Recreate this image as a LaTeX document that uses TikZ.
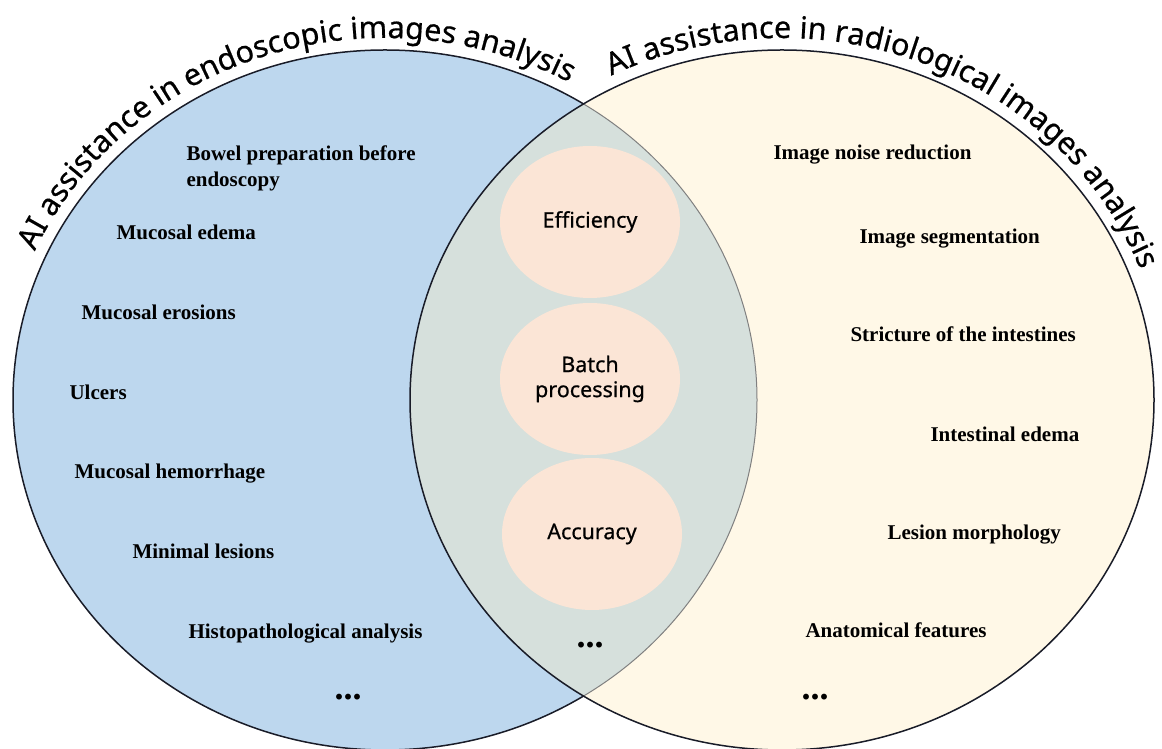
\documentclass[tikz,border=0pt]{standalone}
\usepackage{fontspec}
\setmainfont{Liberation Serif}
\newfontfamily\headfont{Noto Sans}[FakeBold=0.6]
\usetikzlibrary{shapes.geometric,decorations.text}

\definecolor{endoblue}{RGB}{189,215,238}
\definecolor{radiocream}{RGB}{255,248,231}
\definecolor{overlapgrey}{RGB}{214,224,220}
\definecolor{keypink}{RGB}{251,229,214}
\definecolor{rimblack}{RGB}{25,28,40}

\begin{document}
\begin{tikzpicture}[x=1pt,y=1pt,
  rim/.style={draw=rimblack,line width=1.5pt},
  item/.style={anchor=base west,font=\bfseries\fontsize{21}{26}\selectfont},
  key/.style={ellipse,fill=keypink,minimum width=180pt,minimum height=152pt,inner sep=0pt,align=center,font=\headfont\fontsize{21.5}{25}\selectfont},
  more/.style={anchor=base,font=\bfseries\fontsize{36}{36}\selectfont},
  title/.style={decorate,decoration={text along path,text align=center,text={#1}}}]
\useasboundingbox (0,0) rectangle (1162,749);
\coordinate (cl) at (385,349);
\coordinate (cr) at (782,349);
% the two sets and their overlap
\fill[endoblue] (cl) ellipse [x radius=372pt,y radius=350pt];
\draw[rim] (cl) ellipse [x radius=372pt,y radius=350pt];
\fill[radiocream] (cr) ellipse [x radius=372pt,y radius=350pt];
\begin{scope}
  \clip (cl) ellipse [x radius=372pt,y radius=350pt];
  \fill[overlapgrey] (cr) ellipse [x radius=372pt,y radius=350pt];
\end{scope}
\begin{scope}
  \clip (cr) ellipse [x radius=372pt,y radius=350pt];
  \draw[gray,line width=1pt] (cl) ellipse [x radius=372pt,y radius=350pt];
\end{scope}
\draw[rim] (cr) ellipse [x radius=372pt,y radius=350pt];
% curved titles
\path[title={|\headfont\fontsize{30.5}{32}\selectfont|AI assistance in endoscopic images analysis}]
  (cl) ++(168.75:384pt and 362pt) arc[start angle=168.75,end angle=48.75,x radius=384pt,y radius=362pt];
\path[title={|\headfont\fontsize{30.5}{32}\selectfont|AI assistance in radiological images analysis}]
  (cr) ++(128.5:384pt and 362pt) arc[start angle=128.5,end angle=8.5,x radius=384pt,y radius=362pt];
% shared benefits
\node[key] (eff) at (590,527) {Efficiency};
\node[key] (batch) at (590,370) {Batch\\processing};
\node[key] (acc) at (592,215) {Accuracy};
\node[more] (dotsm) at (590,101) {...};
% endoscopic side
\node[item,anchor=west,align=left] (bowel) at (183,581) {Bowel preparation before\\endoscopy};
\node[item] (edema) at (113,509) {Mucosal edema};
\node[item] (erosion) at (78,429) {Mucosal erosions};
\node[item] (ulcer) at (66,349) {Ulcers};
\node[item] (bleed) at (71,270) {Mucosal hemorrhage};
\node[item] (minimal) at (129,190) {Minimal lesions};
\node[item] (histo) at (185,110) {Histopathological analysis};
\node[more] (dotsl) at (348,49) {...};
% radiological side
\node[item] (noise) at (770,589) {Image noise reduction};
\node[item] (segment) at (856,505) {Image segmentation};
\node[item] (stricture) at (847,407) {Stricture of the intestines};
\node[item] (intedema) at (927,307) {Intestinal edema};
\node[item] (morph) at (884,209) {Lesion morphology};
\node[item] (anatomy) at (802,111) {Anatomical features};
\node[more] (dotsr) at (815,49) {...};
\end{tikzpicture}
\end{document}
